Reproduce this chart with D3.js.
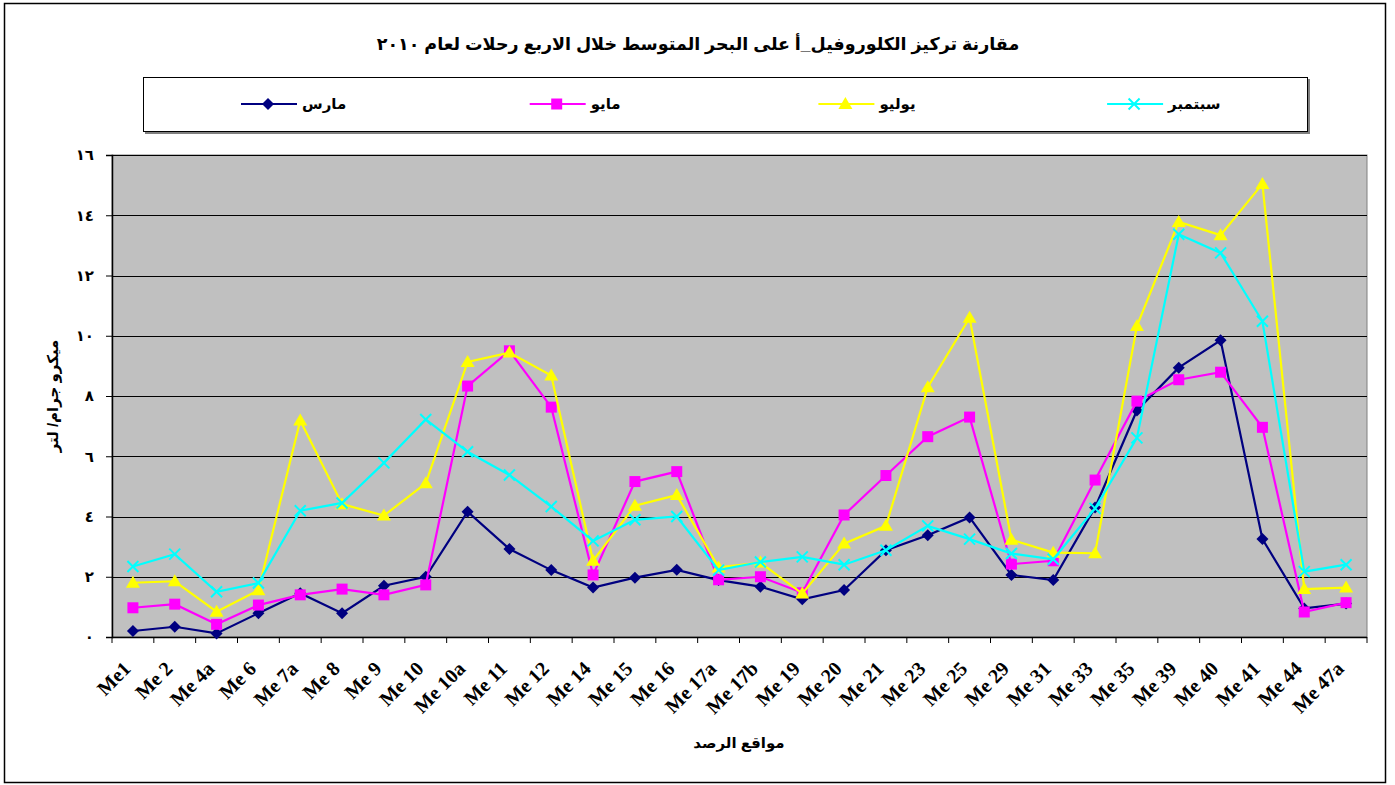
<!DOCTYPE html>
<html>
<head>
<meta charset="utf-8">
<script src="https://cdn.jsdelivr.net/npm/d3@7"></script>
<style>
  body { margin: 0; background: #fff; }
  svg { display: block; }
  text { font-family: Arial, "Liberation Sans", "DejaVu Sans", sans-serif; }
</style>
</head>
<body>
<div id="chart"></div>
<script>
(function() {
    // station names along the x axis
    const categories = ["Me1", "Me 2", "Me 4a", "Me 6", "Me 7a", "Me 8", "Me 9", "Me 10", "Me 10a", "Me 11",
        "Me 12", "Me 14", "Me 15", "Me 16", "Me 17a", "Me 17b", "Me 19", "Me 20", "Me 21", "Me 23",
        "Me 25", "Me 29", "Me 31", "Me 33", "Me 35", "Me 39", "Me 40", "Me 41", "Me 44", "Me 47a"];

    // chlorophyll-a values per trip
    const march = [0.2, 0.34, 0.12, 0.79, 1.45, 0.79, 1.7, 2.0, 4.16, 2.92,
        2.22, 1.64, 1.97, 2.23, 1.89, 1.67, 1.25, 1.56, 2.88, 3.38,
        3.97, 2.06, 1.89, 4.3, 7.52, 8.94, 9.85, 3.25, 0.95, 1.11];
    const may = [0.97, 1.09, 0.42, 1.06, 1.4, 1.59, 1.4, 1.73, 8.33, 9.5,
        7.63, 2.06, 5.16, 5.49, 1.9, 2.0, 1.47, 4.05, 5.36, 6.65,
        7.3, 2.42, 2.53, 5.21, 7.83, 8.54, 8.79, 6.96, 0.83, 1.14];
    const july = [1.8, 1.85, 0.84, 1.55, 7.19, 4.41, 4.03, 5.1, 9.13, 9.44,
        8.68, 2.53, 4.36, 4.71, 2.31, 2.47, 1.44, 3.1, 3.69, 8.29,
        10.6, 3.23, 2.8, 2.78, 10.32, 13.78, 13.34, 15.04, 1.59, 1.64];
    const september = [2.34, 2.75, 1.5, 1.79, 4.19, 4.45, 5.78, 7.22, 6.15, 5.38,
        4.33, 3.19, 3.89, 4.0, 2.22, 2.49, 2.66, 2.4, 2.88, 3.69,
        3.25, 2.77, 2.58, 4.27, 6.61, 13.37, 12.75, 10.48, 2.17, 2.4];

    const seriesNames = ["مارس", "مايو", "يوليو", "سبتمبر"];
    const yTicks = [0, 2, 4, 6, 8, 10, 12, 14, 16];

    const series = [
        {name: seriesNames[0], values: march, color: "#000080", marker: "diamond"},
        {name: seriesNames[1], values: may, color: "#FF00FF", marker: "square"},
        {name: seriesNames[2], values: july, color: "#FFFF00", marker: "triangle"},
        {name: seriesNames[3], values: september, color: "#00FFFF", marker: "cross"}
    ];

    const W = 1395, H = 785;
    const plot = {left: 112, right: 1367, top: 155, bottom: 637};

    const svg = d3.select("#chart").append("svg")
        .attr("width", W)
        .attr("height", H);

    // outer chart border
    svg.append("rect")
        .attr("x", 4.5).attr("y", 3.5)
        .attr("width", 1381).attr("height", 779)
        .attr("fill", "#fff")
        .attr("stroke", "#000")
        .attr("stroke-width", 1.5);

    // title
    svg.append("text")
        .attr("x", 698).attr("y", 50)
        .attr("text-anchor", "middle")
        .style("font-size", "17.5px")
        .style("font-weight", "bold")
        .text("مقارنة تركيز الكلوروفيل_أ على البحر المتوسط خلال الاربع رحلات لعام ٢٠١٠");

    const x = d3.scaleBand()
        .domain(categories)
        .range([plot.left, plot.right]);
    const cx = d => x(d) + x.bandwidth() / 2;

    const y = d3.scaleLinear()
        .domain([0, 16])
        .range([plot.bottom, plot.top]);

    // plot area
    svg.append("rect")
        .attr("x", plot.left).attr("y", plot.top)
        .attr("width", plot.right - plot.left)
        .attr("height", plot.bottom - plot.top)
        .attr("fill", "#C0C0C0")
        .attr("stroke", "#808080")
        .attr("stroke-width", 1);

    // gridlines
    svg.append("g")
        .selectAll("line")
        .data(yTicks.filter(t => t > 0))
        .join("line")
        .attr("x1", plot.left).attr("x2", plot.right)
        .attr("y1", d => Math.round(y(d)) + 0.5)
        .attr("y2", d => Math.round(y(d)) + 0.5)
        .attr("stroke", "#000")
        .attr("stroke-width", 1.2);

    // y axis with Arabic-Indic digits
    const arabicDigits = n => String(n).replace(/[0-9]/g, c => "٠١٢٣٤٥٦٧٨٩"[+c]);
    const yAxis = svg.append("g")
        .attr("transform", `translate(${plot.left},0)`)
        .call(d3.axisLeft(y).tickValues(yTicks).tickSize(6).tickPadding(12).tickFormat(arabicDigits));
    yAxis.select(".domain").attr("stroke", "#000").attr("stroke-width", 1.5);
    yAxis.selectAll(".tick line").attr("stroke", "#000");
    yAxis.selectAll(".tick text")
        .style("font-size", "15px")
        .style("font-weight", "bold")
        .attr("fill", "#000");

    // x axis line and ticks at band boundaries
    const xAxis = svg.append("g");
    xAxis.append("line")
        .attr("x1", plot.left).attr("x2", plot.right)
        .attr("y1", plot.bottom + 0.5).attr("y2", plot.bottom + 0.5)
        .attr("stroke", "#000").attr("stroke-width", 1.5);
    xAxis.selectAll("line.tick")
        .data(categories.concat(["end"]))
        .join("line")
        .attr("class", "tick")
        .attr("x1", d => d === "end" ? plot.right : x(d))
        .attr("x2", d => d === "end" ? plot.right : x(d))
        .attr("y1", plot.bottom).attr("y2", plot.bottom + 6)
        .attr("stroke", "#000");

    // rotated station labels (45 degrees up to the right)
    xAxis.selectAll("text.xlabel")
        .data(categories)
        .join("text")
        .attr("class", "xlabel")
        .attr("transform", d => `translate(${cx(d) - 1},${plot.bottom + 33}) rotate(-45)`)
        .attr("text-anchor", "end")
        .style("font-family", "'Liberation Serif', 'Times New Roman', serif")
        .style("font-size", "20px")
        .style("font-weight", "bold")
        .text(d => d);

    // axis titles
    svg.append("text")
        .attr("x", 739).attr("y", 748)
        .attr("text-anchor", "middle")
        .style("font-size", "15px")
        .style("font-weight", "bold")
        .text("مواقع الرصد");

    svg.append("text")
        .attr("transform", `translate(58,${(plot.top + plot.bottom) / 2}) rotate(-90)`)
        .attr("text-anchor", "middle")
        .style("font-size", "15px")
        .style("font-weight", "bold")
        .text("ميكرو جرام/ لتر");

    // marker shapes
    function markerPath(type) {
        if (type === "diamond") return "M0,-6L6,0L0,6L-6,0Z";
        if (type === "square") return "M-5.5,-5.5H5.5V5.5H-5.5Z";
        if (type === "triangle") return "M0,-7L7,5H-7Z";
        return "M-5.5,-5.5L5.5,5.5M5.5,-5.5L-5.5,5.5";
    }
    function drawMarker(g, type, color) {
        const p = g.append("path").attr("d", markerPath(type));
        if (type === "cross") {
            p.attr("fill", "none").attr("stroke", color).attr("stroke-width", 2);
        } else {
            p.attr("fill", color);
        }
    }

    const line = d3.line()
        .x((d, i) => cx(categories[i]))
        .y(d => y(d));

    series.forEach(s => {
        const g = svg.append("g");
        g.append("path")
            .datum(s.values)
            .attr("d", line)
            .attr("fill", "none")
            .attr("stroke", s.color)
            .attr("stroke-width", 2.2);
        s.values.forEach((v, i) => {
            const m = g.append("g").attr("transform", `translate(${cx(categories[i])},${y(v)})`);
            drawMarker(m, s.marker, s.color);
        });
    });

    // legend
    const legend = svg.append("g");
    legend.append("rect")
        .attr("x", 145).attr("y", 79)
        .attr("width", 1165).attr("height", 55)
        .attr("fill", "#808080");
    legend.append("rect")
        .attr("x", 143.5).attr("y", 77.5)
        .attr("width", 1164).attr("height", 54)
        .attr("fill", "#fff")
        .attr("stroke", "#000")
        .attr("stroke-width", 1);

    series.forEach((s, i) => {
        const x0 = 241 + i * 288.7;
        const ly = 104;
        legend.append("line")
            .attr("x1", x0).attr("x2", x0 + 56)
            .attr("y1", ly).attr("y2", ly)
            .attr("stroke", s.color)
            .attr("stroke-width", 2.2);
        const m = legend.append("g").attr("transform", `translate(${x0 + 27},${ly})`);
        drawMarker(m, s.marker, s.color);
        legend.append("text")
            .attr("x", x0 + 61).attr("y", ly + 5)
            .attr("text-anchor", "start")
            .style("font-size", "15px")
            .style("font-weight", "bold")
            .text(s.name);
    });
})();
</script>
</body>
</html>
